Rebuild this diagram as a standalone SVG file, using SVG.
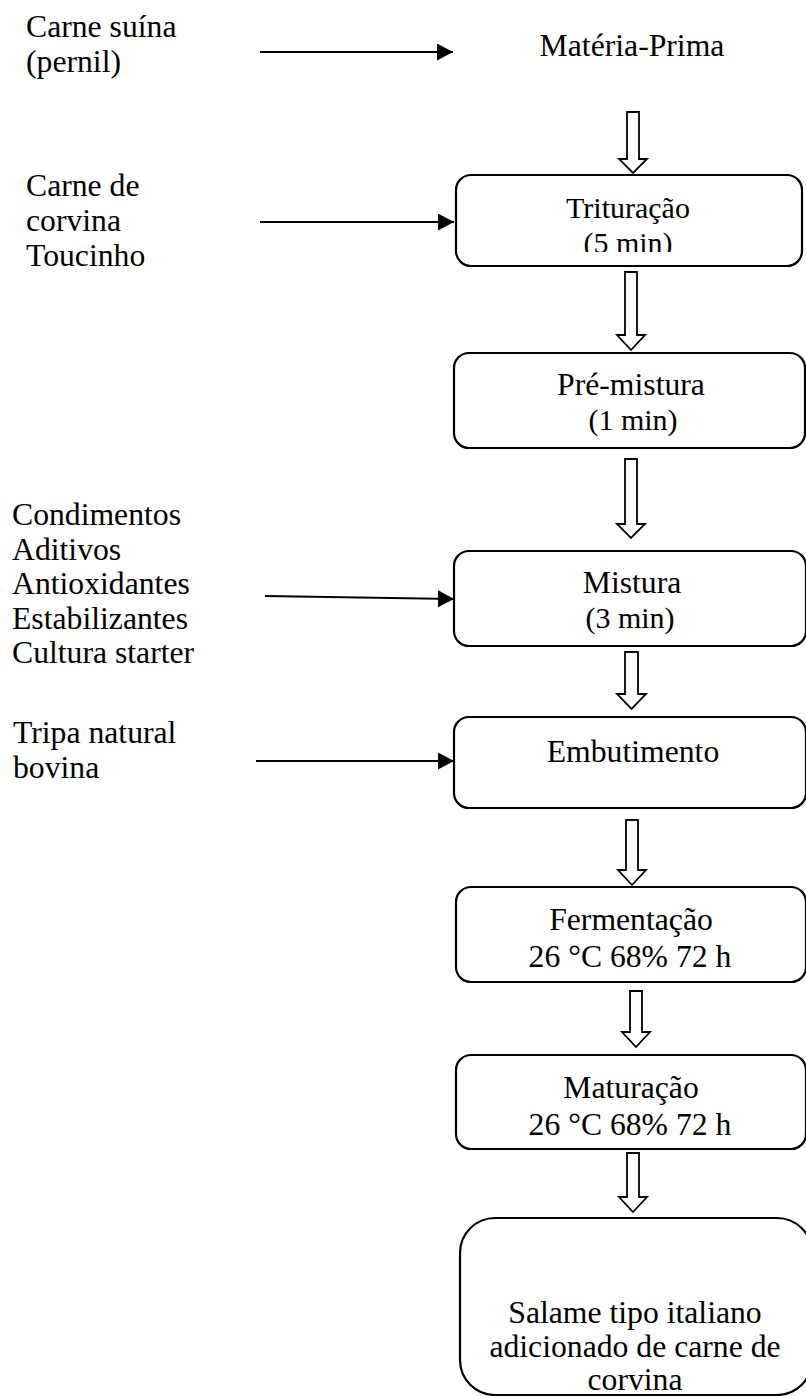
<svg xmlns="http://www.w3.org/2000/svg" width="806" height="1396" viewBox="0 0 806 1396">
<style>
text{font-family:"Liberation Serif","Times New Roman",serif;font-size:31.7px;fill:#000}
.c{text-anchor:middle}
.s{font-size:30px}
.box{fill:#fff;stroke:#000;stroke-width:2.2}
.line{stroke:#000;stroke-width:2;fill:none}
.hollow{fill:#fff;stroke:#000;stroke-width:1.8;stroke-linejoin:miter}
</style>
<defs>
<marker id="ah" markerWidth="17" markerHeight="17" refX="16" refY="8.5" orient="auto" markerUnits="userSpaceOnUse">
<path d="M0,0 L16,8.5 L0,17 Z" fill="#000"/>
</marker>
<clipPath id="clipT"><rect x="456" y="175" width="346" height="77"/></clipPath>
</defs>
<rect width="806" height="1396" fill="#fff"/>

<g id="inputs">
<text x="26" y="37">Carne suína</text>
<text x="26" y="72">(pernil)</text>
<text x="26" y="196">Carne de</text>
<text x="26" y="231">corvina</text>
<text x="26" y="266">Toucinho</text>
<text x="12" y="525">Condimentos</text>
<text x="12" y="559.5">Aditivos</text>
<text x="12" y="594">Antioxidantes</text>
<text x="12" y="628.5">Estabilizantes</text>
<text x="12" y="663">Cultura starter</text>
<text x="13" y="743">Tripa natural</text>
<text x="13" y="778">bovina</text>
</g>

<g id="materia-prima"><text class="c" x="632" y="56">Matéria-Prima</text></g>

<g id="trituracao">
<rect class="box" x="456" y="175" width="346" height="91" rx="15"/>
<g clip-path="url(#clipT)">
<text class="c s" x="628" y="218">Trituração</text>
<text class="c s" x="628" y="253">(5 min)</text>
</g>
</g>

<g id="pre-mistura">
<rect class="box" x="454" y="353" width="351" height="95" rx="15"/>
<text class="c" x="631" y="395">Pré-mistura</text>
<text class="c s" x="633" y="430">(1 min)</text>
</g>

<g id="mistura">
<rect class="box" x="454" y="551" width="352" height="95" rx="15"/>
<text class="c" x="632" y="593">Mistura</text>
<text class="c s" x="630" y="628">(3 min)</text>
</g>

<g id="embutimento">
<rect class="box" x="454" y="717" width="352" height="91" rx="15"/>
<text class="c" x="633" y="762">Embutimento</text>
</g>

<g id="fermentacao">
<rect class="box" x="456" y="887" width="350" height="95" rx="15"/>
<text class="c" x="631" y="930">Fermentação</text>
<text class="c" x="630" y="967">26 °C 68% 72 h</text>
</g>

<g id="maturacao">
<rect class="box" x="456" y="1055" width="350" height="94" rx="15"/>
<text class="c" x="631" y="1098">Maturação</text>
<text class="c" x="630" y="1135">26 °C 68% 72 h</text>
</g>

<g id="salame">
<rect class="box" x="460" y="1218" width="352" height="177" rx="35"/>
<text class="c" x="635" y="1323">Salame tipo italiano</text>
<text class="c" x="635" y="1357">adicionado de carne de</text>
<text class="c" x="635" y="1390">corvina</text>
</g>

<g id="connectors">
<line class="line" x1="260" y1="52" x2="453" y2="52" marker-end="url(#ah)"/>
<line class="line" x1="260" y1="222" x2="454" y2="222" marker-end="url(#ah)"/>
<line class="line" x1="265" y1="596" x2="454" y2="599" marker-end="url(#ah)"/>
<line class="line" x1="256" y1="761" x2="454" y2="761" marker-end="url(#ah)"/>
<path class="hollow" d="M627,112 H639 V159 H647 L633,173 L619,159 H627 Z"/>
<path class="hollow" d="M625,272 H637 V335 H645 L631,350 L617,335 H625 Z"/>
<path class="hollow" d="M625,459 H637 V524 H645 L631,538 L617,524 H625 Z"/>
<path class="hollow" d="M625,652 H638 V694 H646 L631.5,709 L617,694 H625 Z"/>
<path class="hollow" d="M626,820 H638 V870 H646 L632,885 L618,870 H626 Z"/>
<path class="hollow" d="M630,991 H642 V1032 H650 L636,1047 L622,1032 H630 Z"/>
<path class="hollow" d="M627,1153 H639 V1197 H647 L633,1212 L619,1197 H627 Z"/>
</g>
</svg>
